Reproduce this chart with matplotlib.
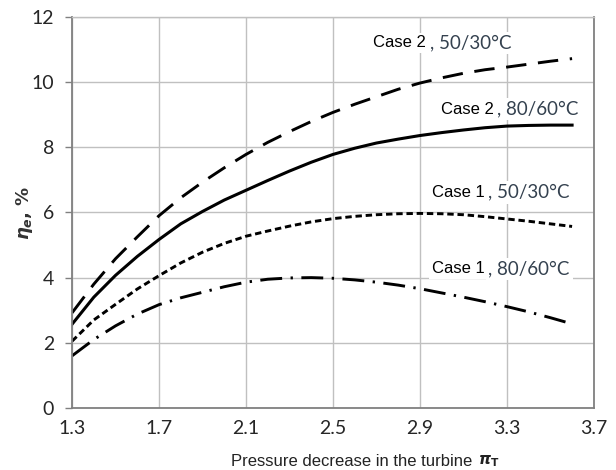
import numpy as np
import matplotlib.pyplot as plt

# pressure ratio in the turbine
pi_t = [1.3, 1.4, 1.5, 1.6, 1.7, 1.8, 1.9, 2.0, 2.1, 2.2, 2.3, 2.4,
        2.5, 2.6, 2.7, 2.8, 2.9, 3.0, 3.1, 3.2, 3.3, 3.4, 3.5, 3.6]

# efficiency, %
case2_50_30 = [2.92, 3.80, 4.58, 5.25, 5.90, 6.45, 6.93, 7.37, 7.78, 8.15, 8.48, 8.79,
               9.07, 9.32, 9.55, 9.78, 9.97, 10.13, 10.27, 10.38, 10.46, 10.55, 10.64, 10.72]
case2_80_60 = [2.57, 3.40, 4.07, 4.65, 5.17, 5.65, 6.03, 6.38, 6.68, 6.98, 7.27, 7.54,
               7.78, 7.97, 8.13, 8.25, 8.36, 8.45, 8.53, 8.60, 8.65, 8.67, 8.68, 8.68]
case1_50_30 = [2.05, 2.70, 3.18, 3.65, 4.06, 4.45, 4.78, 5.05, 5.27, 5.43, 5.58, 5.71,
               5.81, 5.88, 5.93, 5.96, 5.97, 5.96, 5.93, 5.87, 5.80, 5.73, 5.65, 5.57]
case1_80_60 = [1.60, 2.10, 2.52, 2.88, 3.17, 3.38, 3.55, 3.72, 3.86, 3.95, 3.99, 4.00,
               3.98, 3.93, 3.86, 3.77, 3.66, 3.53, 3.40, 3.26, 3.11, 2.95, 2.77, 2.58]

xticks = [1.3, 1.7, 2.1, 2.5, 2.9, 3.3, 3.7]
yticks = [0, 2, 4, 6, 8, 10, 12]

# bold math for the symbols in the axis labels
plt.rcParams['mathtext.fontset'] = 'custom'
plt.rcParams['mathtext.it'] = 'DejaVu Sans:bold:italic'
plt.rcParams['mathtext.rm'] = 'DejaVu Sans:bold'

narrow = ['Lato', 'DejaVu Sans']
sans = ['Liberation Sans', 'DejaVu Sans']
blue_grey = '#34414f'

fig = plt.figure(figsize=(6.16, 4.70), dpi=100)
ax = fig.add_axes([0.117, 0.132, 0.847, 0.832])

ax.plot(pi_t, case2_50_30, color='black', lw=2.1, dashes=(7.0, 4.0))
ax.plot(pi_t, case2_80_60, color='black', lw=2.2)
ax.plot(pi_t, case1_50_30, color='black', lw=2.1, dashes=(2.2, 1.3))
ax.plot(pi_t, case1_80_60, color='black', lw=2.1, dashes=(7.5, 2.9, 0.8, 2.9))

ax.set_xlim(1.3, 3.7)
ax.set_ylim(0, 12)
ax.set_xticks(xticks)
ax.set_yticks(yticks)
ax.set_xticklabels([f'{v:.1f}' for v in xticks], family=narrow, fontsize=14, color='#262626')
ax.set_yticklabels([str(v) for v in yticks], family=narrow, fontsize=14, color='#262626')
ax.tick_params(axis='x', length=0, pad=9)
ax.tick_params(axis='y', length=5, width=1, color='#808080', pad=8)

ax.grid(True, color='#c0c0c0', lw=1)
ax.set_axisbelow(True)
for side in ['left', 'bottom', 'right']:
    ax.spines[side].set_color('#808080')
    ax.spines[side].set_linewidth(1.3)
ax.spines['top'].set_color('#c0c0c0')
ax.spines['top'].set_linewidth(1)

# curve labels: case name in black, temperatures in blue-grey
labels = [
    (3.02, 11.2, 'Case 2', '50/30°C'),
    (3.33, 9.17, 'Case 2', '80/60°C'),
    (3.29, 6.62, 'Case 1', '50/30°C'),
    (3.29, 4.27, 'Case 1', '80/60°C'),
]
for x, y, name, temp in labels:
    ax.text(x - 0.07, y, name + ' ', ha='right', va='center', family=sans,
            fontsize=12, color='black',
            bbox=dict(facecolor='white', edgecolor='none', pad=2))
    ax.text(x - 0.075, y, ', ' + temp, ha='left', va='center', family=narrow,
            fontsize=13.5, color=blue_grey,
            bbox=dict(facecolor='white', edgecolor='none', pad=2))

fig.text(0.571, 0.018, 'Pressure decrease in the turbine', ha='center', va='center',
         family=sans, fontsize=12, color='#222222')
fig.text(0.794, 0.019, r'$\pi_\mathrm{T}$', ha='center', va='center',
         fontsize=11, color='#222222')
fig.text(0.04, 0.547, r'$\eta_e$, %', ha='center', va='center',
         rotation=90, family='DejaVu Sans', fontsize=13, fontweight='bold', color='#333333')

fig.savefig('out.png', dpi=100)
